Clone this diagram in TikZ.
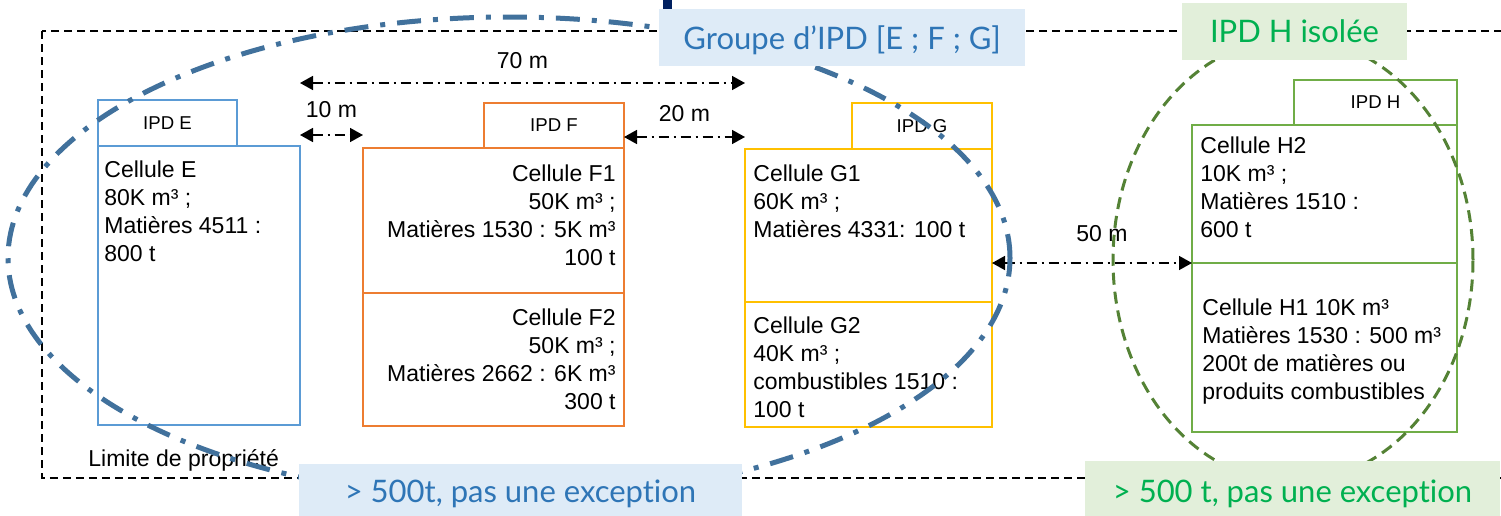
\documentclass[tikz,border=0pt]{standalone}
\usepackage{fontspec}
\setmainfont{Liberation Sans}
\newfontfamily\titlefont[Ligatures=NoCommon]{Lato}
\usetikzlibrary{arrows.meta}
\definecolor{ipdE}{HTML}{5B9BD5}
\definecolor{ipdF}{HTML}{ED7D31}
\definecolor{ipdG}{HTML}{FFC000}
\definecolor{ipdH}{HTML}{70AD47}
\definecolor{ringblue}{HTML}{41719C}
\definecolor{ringgreen}{HTML}{548235}
\definecolor{bannerblue}{HTML}{DEEBF7}
\definecolor{bannergreen}{HTML}{E2EFDA}
\definecolor{titleblue}{HTML}{2E75B6}
\definecolor{titlegreen}{HTML}{00B050}
\definecolor{navybar}{HTML}{002060}
\tikzset{
  tab/.style={draw, line width=1pt, fill=white, inner sep=0pt, outer sep=0pt, anchor=north west, font=\fontsize{9.3}{11}\selectfont},
  cell/.style={draw, line width=1pt, fill=white, inner sep=0pt, outer sep=0pt, anchor=north west},
  celltext/.style={inner sep=0pt, align=left, font=\fontsize{11.5}{14}\selectfont},
  dim/.style={line width=0.8pt, dash pattern=on 5pt off 2.5pt on 1pt off 2.5pt, {Triangle[length=6.5pt,width=7pt]}-{Triangle[length=6.5pt,width=7pt]}},
  dimlabel/.style={inner sep=0pt, font=\fontsize{11.5}{14}\selectfont},
  limite/.style={line width=0.9pt, dash pattern=on 4pt off 2.5pt},
  groupring/.style={line width=2.5pt, draw=ringblue, dash pattern=on 12pt off 6pt on 2.5pt off 6pt},
  isolring/.style={line width=1.5pt, draw=ringgreen, dash pattern=on 6pt off 3.5pt},
  banner/.style={inner sep=0pt, text depth=0pt, font=\titlefont\fontsize{15.5}{18}\selectfont},
}
\begin{document}
\begin{tikzpicture}[x=0.5pt, y=-0.5pt]
    \useasboundingbox (0,0) rectangle (1501,515);
    \clip (0,0) rectangle (1501,515);

    \draw[limite] (42,31) rectangle (1560,478);
    \fill[navybar] (663,0) rectangle (672,10);

    % IPD E
    \node[tab, draw=ipdE, minimum width=69.5pt, minimum height=23pt] (tabE) at (98,100) {IPD E};
    \node[cell, draw=ipdE, minimum width=101pt, minimum height=139.5pt] (cellE) at (98,146) {};
    \node[celltext, anchor=north west] (txtE) at (104,160) {Cellule E\\80K m³ ;\\Matières 4511 :\\800 t};

    % IPD F
    \node[tab, draw=ipdF, minimum width=70pt, minimum height=22.5pt] (tabF) at (484,103) {IPD F};
    \node[cell, draw=ipdF, minimum width=130.5pt, minimum height=72.5pt] (cellFone) at (363,148) {};
    \node[cell, draw=ipdF, minimum width=130.5pt, minimum height=66.5pt] (cellFtwo) at (363,293) {};
    \node[celltext, align=right, anchor=north east] (txtFone) at (616,164) {Cellule F1\\50K m³ ;\\Matières 1530 : 5K m³\\100 t};
    \node[celltext, align=right, anchor=north east] (txtFtwo) at (616,308) {Cellule F2\\50K m³ ;\\Matières 2662 : 6K m³\\300 t};

    % IPD G
    \node[tab, draw=ipdG, minimum width=70pt, minimum height=23pt] (tabG) at (852,103) {IPD G};
    \node[cell, draw=ipdG, minimum width=123.5pt, minimum height=76.5pt] (cellGone) at (745,149) {};
    \node[cell, draw=ipdG, minimum width=123.5pt, minimum height=62.5pt] (cellGtwo) at (745,302) {};
    \node[celltext, anchor=north west] (txtGone) at (753,164) {Cellule G1\\60K m³ ;\\Matières 4331: 100 t};
    \node[celltext, anchor=north west] (txtGtwo) at (753,316) {Cellule G2\\40K m³ ;\\combustibles 1510 :\\100 t};

    % IPD H
    \node[tab, draw=ipdH, minimum width=81.5pt, minimum height=22.5pt] (tabH) at (1294,80) {IPD H};
    \node[cell, draw=ipdH, minimum width=132.5pt, minimum height=69pt] (cellHtwo) at (1192,125) {};
    \node[cell, draw=ipdH, minimum width=132.5pt, minimum height=84.5pt] (cellHone) at (1192,263) {};
    \node[celltext, anchor=north west] (txtHtwo) at (1200,136) {Cellule H2\\10K m³ ;\\Matières 1510 :\\600 t};
    \node[celltext, anchor=north west] (txtHone) at (1202,298) {Cellule H1 10K m³\\Matières 1530 : 500 m³\\200t de matières ou\\produits combustibles};

    \node[celltext, anchor=base west] (limTxt) at (88,466) {Limite de propriété};

    \draw[dim] (cellE.north east |- 0,83) -- node[dimlabel, above=6.5pt] (lblSeventy) {70 m} (cellGone.north west |- 0,83);
    \draw[dim] (cellE.north east |- 0,135) -- node[dimlabel, above=8pt] (lblTen) {10 m} (cellFone.north west |- 0,135);
    \draw[dim] (cellFone.north east |- 0,137) -- node[dimlabel, above=7pt] (lblTwenty) {20 m} (cellGone.north west |- 0,137);
    \draw[dim] (cellGone.east |- cellHone.north west) -- node[dimlabel, above=10pt, xshift=5pt] (lblFifty) {50 m} (cellHone.north west);

    \draw[groupring] (509,258) ellipse [x radius=250.5pt, y radius=120.5pt];
    \draw[isolring] (1293,260) ellipse [x radius=90pt, y radius=111pt];

    \node[banner, fill=bannerblue, text=titleblue, minimum width=183pt, minimum height=28.5pt] (grpTitle) at (842,37.5) {Groupe d’IPD [E ; F ; G]};
    \node[banner, fill=bannergreen, text=titlegreen, minimum width=112.5pt, minimum height=28.5pt] (isoTitle) at (1294.5,31.5) {IPD H isolée};
    \node[banner, fill=bannerblue, text=titleblue, minimum width=221.5pt, minimum height=27pt] (grpNote) at (520.5,491) {> 500t, pas une exception};
    \node[banner, fill=bannergreen, text=titlegreen, minimum width=207.5pt, minimum height=30pt] (isoNote) at (1292.5,491) {> 500 t, pas une exception};
\end{tikzpicture}
\end{document}
